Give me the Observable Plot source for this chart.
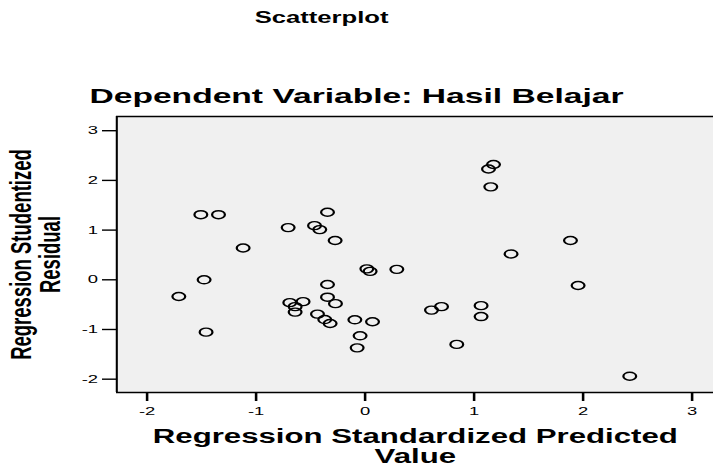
<!DOCTYPE html>
<html>
<head>
<meta charset="utf-8">
<script src="https://cdn.jsdelivr.net/npm/d3@7"></script>
<script src="https://cdn.jsdelivr.net/npm/@observablehq/plot@0.6"></script>
<style>
  html, body { margin: 0; padding: 0; background: #fff; overflow: hidden; }
  #fig { width: 445.625px; transform: scaleX(1.6); transform-origin: 0 0;
         font-family: "Liberation Sans", Arial, sans-serif; color: #000; }
  .title { width: 402px; height: 36px; line-height: 36px; text-align: center;
           font-size: 16px; font-weight: bold; }
  .subtitle { width: 445.625px; height: 72px; box-sizing: border-box; padding-top: 48px;
              line-height: 24px; text-align: center; font-size: 21px; font-weight: bold; white-space: nowrap; }
</style>
</head>
<body>
<div id="fig">
  <div class="title">Scatterplot</div>
  <div class="subtitle">Dependent Variable: Hasil Belajar</div>
  <div id="chart"></div>
</div>
<script>
// Regression Standardized Predicted Value (x) and Regression Studentized Residual (y)
const predicted = [-1.507, -1.345, -0.345, -0.706, -0.464, -0.416, -0.275, -1.119, 0.016, 0.046,
                   0.291, -1.477, -0.345, 1.178, 1.132, 1.153, 1.884, 1.339, 1.954, -1.709,
                   -1.459, -0.345, -0.272, -0.691, -0.569, -0.642, -0.642, -0.437, -0.370, -0.321,
                   -0.094, 0.068, -0.046, -0.073, 0.609, 0.701, 1.064, 1.064, 0.841, 2.428];
const residual  = [1.31, 1.31, 1.36, 1.05, 1.09, 1.01, 0.79, 0.64, 0.22, 0.17,
                   0.21, 0.00, -0.095, 2.32, 2.23, 1.87, 0.79, 0.52, -0.115, -0.336,
                   -1.054, -0.35, -0.48, -0.46, -0.44, -0.54, -0.65, -0.69, -0.80, -0.88,
                   -0.805, -0.845, -1.127, -1.37, -0.61, -0.54, -0.52, -0.74, -1.30, -1.94];
const xTicks = [-2, -1, 0, 1, 2, 3];
const yTicks = [-2, -1, 0, 1, 2, 3];
const xDomain = [-2.278, 3.199];
const yDomain = [-2.268, 3.286];
const xLabel = "Regression Standardized Predicted\nValue";
const yLabel = "Regression Studentized\nResidual";

const points = predicted.map((x, i) => ({x, y: residual[i]}));

const chart = Plot.plot({
  width: 445.625,
  height: 358,
  marginLeft: 72.5,
  marginRight: 0,
  marginTop: 8,
  marginBottom: 74,
  style: {fontFamily: "Liberation Sans, Arial, sans-serif", color: "#000", background: "transparent", overflow: "visible"},
  x: {domain: xDomain},
  y: {domain: yDomain},
  marks: [
    Plot.frame({fill: "#f0f0f0", stroke: "none"}),
    Plot.ruleX([xDomain[0]], {stroke: "#000", strokeWidth: 1.3}),
    Plot.ruleY(yDomain, {stroke: "#000", strokeWidth: 1.3}),
    Plot.axisX({ticks: xTicks, tickFormat: d => String(d), tickSize: 9, tickPadding: 5,
                fontSize: 11.5, strokeWidth: 1.6, label: null}),
    Plot.axisY({ticks: yTicks, tickFormat: d => String(d), tickSize: 8.75, tickPadding: 3,
                fontSize: 11.5, strokeWidth: 1.4, label: null}),
    Plot.dot(points, {x: "x", y: "y", r: 4, stroke: "#000", strokeWidth: 1.4, fill: "none"}),
    Plot.text([xLabel], {text: d => d, frameAnchor: "bottom", lineAnchor: "top", textAnchor: "middle", dy: 37,
                         fontSize: 19.5, fontWeight: "bold", lineHeight: 1.0, fill: "#000"}),
    Plot.text([yLabel], {text: d => d, frameAnchor: "left", lineAnchor: "top", textAnchor: "middle", rotate: -90,
                         dx: -67, fontSize: 18.5, fontWeight: "bold", lineHeight: 1.0, fill: "#000"})
  ]
});
document.getElementById("chart").appendChild(chart);
</script>
</body>
</html>
